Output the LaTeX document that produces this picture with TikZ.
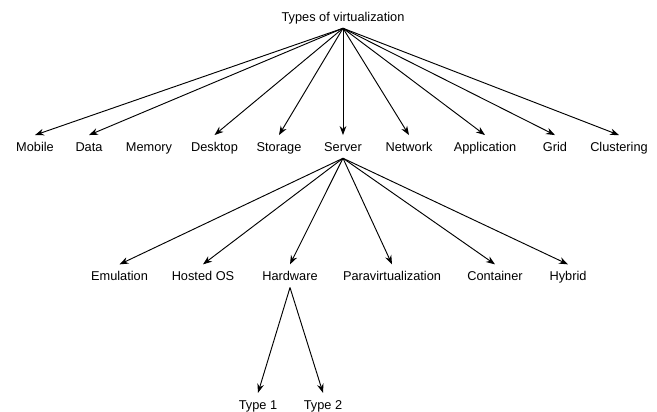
\documentclass[tikz,border=0pt]{standalone}
\usepackage{fontspec}
\setmainfont{Liberation Sans}
\usetikzlibrary{arrows.meta}
\begin{document}
\begin{tikzpicture}[
    typenode/.style={anchor=base, inner sep=3pt, text height=11pt, text depth=2.4pt, font=\fontsize{10.9}{13}\selectfont},
    directed/.style={-{Stealth[length=2.7mm,width=2mm]}, line width=0.8pt}
]
    \useasboundingbox (0,0) rectangle (19.71,-12.36);

    % Root
    \node[typenode] (types) at (10.29,-0.651) {Types of virtualization};

    % First level
    \node[typenode] (mobile) at (1.05,-4.551) {Mobile};
    \node[typenode] (data) at (2.67,-4.551) {Data};
    \node[typenode] (memory) at (4.47,-4.551) {Memory};
    \node[typenode] (desktop) at (6.435,-4.551) {Desktop};
    \node[typenode] (storage) at (8.37,-4.551) {Storage};
    \node[typenode] (server) at (10.29,-4.551) {Server};
    \node[typenode] (network) at (12.27,-4.551) {Network};
    \node[typenode] (application) at (14.55,-4.551) {Application};
    \node[typenode] (grid) at (16.65,-4.551) {Grid};
    \node[typenode] (clustering) at (18.57,-4.551) {Clustering};

    % Server level
    \node[typenode] (emulation) at (3.585,-8.43) {Emulation};
    \node[typenode] (hosted) at (6.09,-8.43) {Hosted OS};
    \node[typenode] (hardware) at (8.7,-8.43) {Hardware};
    \node[typenode] (paravirt) at (11.76,-8.43) {Paravirtualization};
    \node[typenode] (container) at (14.85,-8.43) {Container};
    \node[typenode] (hybrid) at (17.04,-8.43) {Hybrid};

    % Hardware level
    \node[typenode] (type1) at (7.74,-12.285) {Type 1};
    \node[typenode] (type2) at (9.69,-12.285) {Type 2};

    % Arrows from root
    \draw[directed] (types.south) -- (mobile.north);
    \draw[directed] (types.south) -- (data.north);
    \draw[directed] (types.south) -- (desktop.north);
    \draw[directed] (types.south) -- (storage.north);
    \draw[directed] (types.south) -- (server.north);
    \draw[directed] (types.south) -- (network.north);
    \draw[directed] (types.south) -- (application.north);
    \draw[directed] (types.south) -- (grid.north);
    \draw[directed] (types.south) -- (clustering.north);

    % Arrows from server
    \draw[directed] (server.south) -- (emulation.north);
    \draw[directed] (server.south) -- (hosted.north);
    \draw[directed] (server.south) -- (hardware.north);
    \draw[directed] (server.south) -- (paravirt.north);
    \draw[directed] (server.south) -- (container.north);
    \draw[directed] (server.south) -- (hybrid.north);

    % Arrows from hardware
    \draw[directed] (hardware.south) -- (type1.north);
    \draw[directed] (hardware.south) -- (type2.north);
\end{tikzpicture}
\end{document}
